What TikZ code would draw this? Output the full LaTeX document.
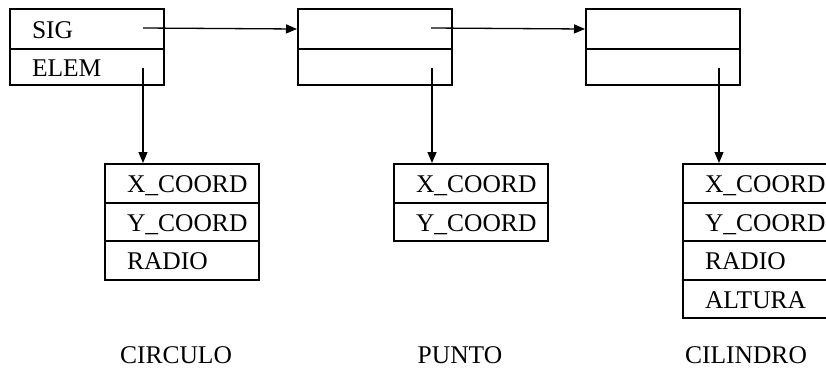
\documentclass[tikz,border=0pt]{standalone}
\usepackage{fontspec}
\setmainfont{Liberation Serif}
\usetikzlibrary{arrows.meta}
\begin{document}
\begin{tikzpicture}[x=1pt,y=-1pt,
  font=\fontsize{25.5}{30}\selectfont,
  cell/.style={draw,line width=2pt,anchor=north west,inner xsep=0pt,inner ysep=0pt,
    text width=154pt,align=left,text height=19pt,text depth=0pt,minimum height=#1},
  cell/.default=38.5pt,
  link/.style={line width=1.3pt,-{Triangle[length=11pt,width=9pt]}},
  caption/.style={anchor=base,inner sep=0pt}]
\useasboundingbox (0,0) rectangle (826,367);
% top list nodes
\node[cell=40pt] (a1) at (9,8) {\hspace*{22pt}SIG};
\node[cell=36pt] (a2) at (9,48) {\hspace*{22pt}ELEM};
\node[cell=40pt] (b1) at (297,8) {};
\node[cell=36pt] (b2) at (297,48) {};
\node[cell=40pt] (c1) at (585,8) {};
\node[cell=36pt] (c2) at (585,48) {};
% records
\node[cell] (p1) at (104,163) {\hspace*{22pt}X\_COORD};
\node[cell] (p2) at (104,201.5) {\hspace*{22pt}Y\_COORD};
\node[cell] (p3) at (104,240) {\hspace*{22pt}RADIO};
\node[cell] (q1) at (393,163) {\hspace*{22pt}X\_COORD};
\node[cell] (q2) at (393,201.5) {\hspace*{22pt}Y\_COORD};
\node[cell] (r1) at (682,163) {\hspace*{22pt}X\_COORD};
\node[cell] (r2) at (682,201.5) {\hspace*{22pt}Y\_COORD};
\node[cell] (r3) at (682,240) {\hspace*{22pt}RADIO};
\node[cell] (r4) at (682,278.5) {\hspace*{22pt}ALTURA};
% pointer origins
\coordinate (sa) at (143,28);
\coordinate (sb) at (431,28);
\coordinate (ea) at (143,68);
\coordinate (eb) at (432,68);
\coordinate (ec) at (719,68);
% connectors
\draw[link] (sa) -- (b1.west);
\draw[link] (sb) -- (c1.west);
\draw[link] (ea) -- (ea |- p1.north);
\draw[link] (eb) -- (eb |- q1.north);
\draw[link] (ec) -- (ec |- r1.north);
% captions
\node[caption] (lc) at (176,363) {CIRCULO};
\node[caption] (lp) at (460,363) {PUNTO};
\node[caption] (ll) at (746,363) {CILINDRO};
\end{tikzpicture}
\end{document}
